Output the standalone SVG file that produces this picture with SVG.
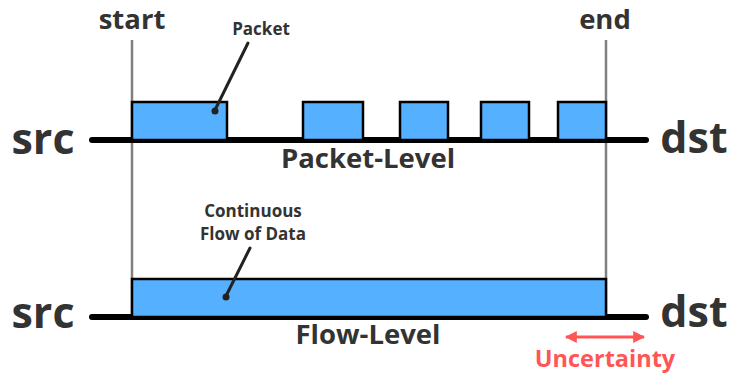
<svg xmlns="http://www.w3.org/2000/svg" width="729" height="374" viewBox="0 0 729 374">
<style>
text{font-family:"Open Sans","DejaVu Sans",sans-serif;font-weight:bold;fill:#333;text-anchor:middle}
.big{font-size:43px}
.mid{font-size:27.5px}
.sm{font-size:17px}
.tick{stroke:#808080;stroke-width:2.5}
.base{stroke:#000;stroke-width:6;stroke-linecap:round}
.box{fill:#55b0ff;stroke:#000;stroke-width:2.5}
.lead{stroke:#222;stroke-width:3;stroke-linecap:round}
</style>
<defs>
<marker id="ah" viewBox="0 0 10 10" refX="9" refY="5" markerWidth="4" markerHeight="4" orient="auto-start-reverse" markerUnits="strokeWidth">
<path d="M0,0 L10,5 L0,10 z" fill="#f55"/>
</marker>
</defs>
<g id="markers">
<line class="tick" x1="132" y1="40" x2="132" y2="317"/>
<line class="tick" x1="606" y1="40" x2="606" y2="317"/>
<text class="mid" x="132" y="29">start</text>
<text class="mid" x="605" y="29">end</text>
</g>
<g id="packet-level">
<line class="base" x1="92" y1="140" x2="646" y2="140"/>
<rect class="box" x="132" y="102" width="95" height="38"/>
<rect class="box" x="303" y="102" width="60" height="38"/>
<rect class="box" x="400" y="102" width="48" height="38"/>
<rect class="box" x="481" y="102" width="48" height="38"/>
<rect class="box" x="558" y="102" width="48" height="38"/>
<text class="big" x="43" y="154">src</text>
<text class="big" x="694" y="153">dst</text>
<text class="mid" x="368" y="168">Packet-Level</text>
</g>
<g id="flow-level">
<line class="base" x1="92" y1="317" x2="646" y2="317"/>
<rect class="box" x="132" y="279" width="474" height="38"/>
<text class="big" x="43" y="328">src</text>
<text class="big" x="694" y="327">dst</text>
<text class="mid" x="368" y="344">Flow-Level</text>
</g>
<g id="labels">
<text class="sm" x="261" y="35">Packet</text>
<text class="sm" x="253" y="217">Continuous</text>
<text class="sm" x="253" y="240">Flow of Data</text>
<text x="605" y="367" style="font-size:23.5px;fill:#f55">Uncertainty</text>
</g>
<g id="connectors">
<line class="lead" x1="248" y1="43" x2="215" y2="110"/>
<circle cx="215" cy="111" r="3.5" fill="#222"/>
<line class="lead" x1="250" y1="248" x2="226" y2="296"/>
<circle cx="226" cy="297" r="3.5" fill="#222"/>
<line x1="566" y1="337" x2="644" y2="337" stroke="#f55" stroke-width="3" marker-start="url(#ah)" marker-end="url(#ah)"/>
</g>
</svg>
